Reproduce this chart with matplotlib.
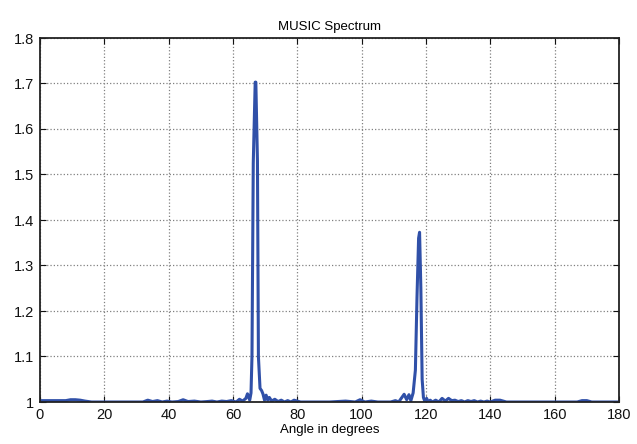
import matplotlib
matplotlib.use("Agg")
import matplotlib.pyplot as plt

# MUSIC pseudo-spectrum samples (angle in degrees, normalised power)
angles = [0, 3, 8, 9.5, 11, 12.5, 14, 16, 20, 25, 30, 32, 33.5, 35, 36.5, 38, 39.5,
          41, 43, 44.5, 46, 48, 50, 52, 53.5, 55, 56.5, 58, 59.5, 61, 62, 63, 64,
          64.5, 65.2, 65.6, 65.9, 66.3, 66.9, 67.1, 67.6, 67.9, 68.4, 68.9, 69.3, 69.8,
          70.3, 70.8, 71.3, 72, 73, 74, 75, 76, 77, 78, 79, 80, 81, 82,
          90, 95, 98, 99.5, 101, 103, 105, 107, 109, 110.5, 111.5, 112.5, 113.2,
          114, 114.7, 115.3, 116, 116.7, 117.2, 117.7, 118.0, 118.4, 118.8, 119.2,
          119.7, 120.2, 120.7, 121.3, 122, 123, 124, 125, 126, 127, 128, 129, 130,
          131, 132, 133, 134, 135, 136, 137, 138, 139, 140, 141.5, 143, 145, 150,
          160, 167, 168.5, 170, 171.5, 175, 180]
power = [1.003, 1.003, 1.003, 1.005, 1.005, 1.004, 1.002, 1.000, 1.000, 1.000, 1.000,
         1.000, 1.004, 1.001, 1.003, 1.000, 1.002, 1.000, 1.001, 1.005, 1.001, 1.002,
         1.000, 1.001, 1.002, 1.000, 1.002, 1.001, 1.003, 1.000, 1.006, 1.002, 1.008,
         1.018, 1.004, 1.020, 1.100, 1.525, 1.703, 1.703, 1.530, 1.100, 1.030, 1.025,
         1.018, 1.004, 1.015, 1.004, 1.010, 1.002, 1.006, 1.001, 1.004, 1.000, 1.003,
         1.000, 1.004, 1.002, 1.000, 1.000, 1.000, 1.002, 1.000, 1.005, 1.000, 1.002,
         1.000, 1.000, 1.000, 1.003, 1.000, 1.010, 1.017, 1.005, 1.016, 1.003, 1.020,
         1.070, 1.230, 1.360, 1.373, 1.250, 1.050, 1.010, 1.000, 1.008, 1.000, 1.004,
         1.000, 1.004, 1.000, 1.008, 1.002, 1.008, 1.003, 1.004, 1.001, 1.003, 1.000,
         1.003, 1.001, 1.003, 1.000, 1.002, 1.000, 1.002, 1.000, 1.004, 1.004, 1.000,
         1.000, 1.000, 1.000, 1.003, 1.003, 1.000, 1.000, 1.000]

x_ticks = [0, 20, 40, 60, 80, 100, 120, 140, 160, 180]
y_ticks = [1.0, 1.1, 1.2, 1.3, 1.4, 1.5, 1.6, 1.7, 1.8]
y_tick_labels = ["1", "1.1", "1.2", "1.3", "1.4", "1.5", "1.6", "1.7", "1.8"]

plt.rcParams['font.family'] = ['Liberation Sans', 'DejaVu Sans']

fig = plt.figure(figsize=(6.37, 4.44), dpi=100)
ax = fig.add_axes([40 / 637, 1 - 402 / 444, 579 / 637, 364 / 444])

ax.plot(angles, power, color='#3050a8', linewidth=2.2, solid_joinstyle='round')

ax.set_xlim(0, 180)
ax.set_ylim(1.0, 1.8)
ax.set_xticks(x_ticks)
ax.set_yticks(y_ticks)
ax.set_yticklabels(y_tick_labels)
ax.tick_params(direction='in', top=True, right=True, length=4, width=0.8,
               labelsize=10.5, colors='#111111', pad=4)
ax.grid(True, color='#808080', linestyle=':', linewidth=0.9)
for s in ax.spines.values():
    s.set_linewidth(1.3)
    s.set_color('#222222')

ax.set_title("MUSIC Spectrum", fontsize=9.5, pad=6)
ax.set_xlabel("Angle in degrees", fontsize=9.5, labelpad=2)

fig.savefig("out.png", dpi=100)
